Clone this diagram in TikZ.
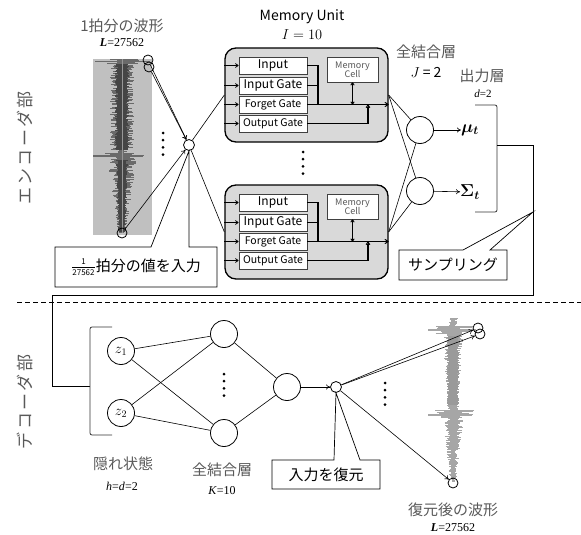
\documentclass[tikz,border=0pt]{standalone}
\usepackage{fontspec}
\usepackage{amsmath,bm}
\setmainfont{Noto Sans CJK JP}
\newfontfamily\ser{Liberation Serif}
\usetikzlibrary{arrows.meta,calc}
\newcommand\fsize[1]{\fontsize{#1}{#1}\selectfont}
\definecolor{lblc}{HTML}{595959}
\definecolor{unitfill}{HTML}{D9D9D9}
\definecolor{wavebg}{HTML}{C0C0C0}
\definecolor{waveA}{HTML}{6A6A6A}
\definecolor{waveAcore}{HTML}{454545}
\definecolor{waveB}{HTML}{A6A6A6}
\definecolor{waveBcore}{HTML}{9A9A9A}
\tikzset{
  unit/.style={draw, line width=1.3pt, fill=unitfill, rounded corners=11pt, inner sep=0pt},
  gate/.style={draw=black!75, line width=0.8pt, fill=white, minimum width=68pt, minimum height=17pt, inner sep=0pt},
  neuron/.style={circle, draw, line width=0.8pt, minimum size=27pt, inner sep=0pt},
  smallnode/.style={circle, draw, line width=0.8pt, minimum size=11pt, inner sep=0pt},
  pick/.style={circle, draw, line width=0.8pt, minimum size=10pt, inner sep=0pt},
  conn/.style={line width=0.6pt},
  arr/.style={conn, -{To[length=4pt,width=5pt]}},
  uarr/.style={line width=0.8pt, -{To[length=3.5pt,width=4.5pt]}},
  thick2/.style={line width=1.6pt},
  callout/.style={draw, line width=0.7pt, fill=white},
  lbl/.style={text=lblc, font=\fsize{15}, inner sep=0pt},
  serlbl/.style={font=\ser\fsize{12}, inner sep=0pt},
  sidelbl/.style={text=lblc, font=\fsize{17}\addfontfeatures{LetterSpace=14}, rotate=90, inner sep=0pt},
}
\newcommand\vdotsat[2]{\foreach \k in {0,1,2,3}{\fill (#1,#2+\k*7.2) circle (1.5pt);}}
\newcommand\memunit[2]{%
 \begin{scope}[shift={(0,#2)}]
  \node[unit, minimum width=163pt, minimum height=94pt] (#1) at (306.5,95) {};
  \node[gate, font=\fsize{12}] (#1a) at (273,65.5) {Input};
  \node[gate, font=\fsize{12}] (#1b) at (273,85.5) {Input Gate};
  \node[gate, font=\fsize{10.5}] (#1c) at (273,104.5) {Forget Gate};
  \node[gate, font=\fsize{10.5}] (#1d) at (273,123.5) {Output Gate};
  \node[gate, minimum width=51pt, minimum height=25pt, text=black!65, font=\fsize{9}, align=center] (#1m) at (352.5,69.5) {Memory\\[-1pt]Cell};
  \foreach \g in {a,b,c,d}{\draw[uarr] (#1.west |- #1\g.west) -- (#1\g.west);}
  \coordinate (#1j) at (318,104.5);
  \coordinate (#1k) at (368,123.5);
  \draw[thick2] (#1a.east) -- (#1a.east -| #1j) -- (#1j);
  \draw[thick2] (#1b.east) -- (#1b.east -| #1j);
  \draw[line width=1pt, -{To[length=4pt,width=5pt]}] (#1c.east) -- (#1c.east -| #1.east);
  \draw[line width=1pt, {To[length=3pt,width=4pt]}-{To[length=3pt,width=4pt]}] (#1m.south) -- (#1m.south |- #1j);
  \draw[thick2] (#1d.east) -- (#1k) -- ($(#1k |- #1j)+(0,2)$);
  \draw[line width=1pt, -{To[length=3.5pt,width=4.5pt]}] (#1k) -- (#1k |- #1j);
 \end{scope}}
\begin{document}
\begin{tikzpicture}[x=1pt,y=-1pt]
\useasboundingbox (0,0) rectangle (581,535);

% ---------- encoder waveform ----------
\fill[wavebg] (93,59) rectangle (152,235);
\pgfmathsetseed{12}
\foreach \y in {59,59.8,...,233}{
  \pgfmathsetmacro\env{\y<64 ? 17 : (\y<150 ? 12 : (\y<153 ? 5 : (\y<158 ? 22 : 15-(\y-158)*11/75)))}
  \pgfmathsetmacro\wl{\env*(0.25+0.75*rnd)}
  \pgfmathsetmacro\wr{\env*(0.25+0.75*rnd)}
  \draw[waveA, line width=0.7pt] (122-\wl,\y) -- (122+\wr,\y);
}
\foreach \y in {64,64.8,...,150}{
  \pgfmathsetmacro\wl{4+3*rnd}
  \pgfmathsetmacro\wr{4+3*rnd}
  \draw[waveAcore, line width=0.8pt] (122-\wl,\y) -- (122+\wr,\y);
}
\foreach \y in {160,160.8,...,232}{
  \pgfmathsetmacro\w{4-(\y-160)*2/72+2*rnd}
  \draw[waveAcore, line width=0.7pt] (122-\w,\y) -- (122+\w,\y);
}
\draw[waveA, line width=1.1pt] (95,61.5) -- (150,61.5);
\draw[waveA, line width=1.3pt] (93,156) -- (143,156);
\draw[waveA!70, line width=0.4pt] (122,59) -- (122,233);

\node[lbl] (wtitle) at (122,26) {1拍分の波形};
\node[serlbl] (wlen) at (122,43) {\textbf{\textit{L}}=27562};
\node[sidelbl] (enc) at (25,148) {エンコーダ部};

\node[pick] (w1) at (148,60) {};
\node[pick] (w2) at (149,67) {};
\node[pick] (w3) at (122,233) {};
\vdotsat{163}{133}
\node[smallnode] (n0) at (189,145) {};
\draw[arr] (w1) -- (n0);
\draw[arr] (w2) -- (n0);
\draw[arr] (w3) -- (n0);

% callout 1
\coordinate (c1a) at (55,247);
\coordinate (c1b) at (151,247);
\coordinate (c1c) at (189,247);
\coordinate (c1d) at (217,247);
\coordinate (c1e) at (217,287);
\coordinate (c1f) at (55,287);
\draw[callout] (c1a) -- (c1b) -- (n0.south) -- (c1c) -- (c1d) -- (c1e) -- (c1f) -- cycle;
\node[inner sep=0pt, font=\fsize{15}] (c1t) at (136,267) {\raisebox{0.5pt}{$\genfrac{}{}{0.8pt}{}{\text{\fsize{8}1}}{\text{\fsize{8}27562}}$}拍分の値を入力};

% ---------- memory units ----------
\node[inner sep=0pt, font=\fsize{14}] (mu) at (302,17) {Memory Unit};
\node[inner sep=0pt, font=\fsize{14}] (mui) at (302,35) {$I=10$};
\memunit{A}{0}
\memunit{B}{137}
\vdotsat{303}{152}
\draw[conn] (n0) -- (A.west);
\draw[conn] (n0) -- (B.west);

% ---------- fully connected ----------
\node[lbl] (fc) at (426,52) {全結合層};
\node[inner sep=0pt, font=\fsize{14}] (fcj) at (426,72) {$J$ = 2};
\node[neuron] (f1) at (420,130) {};
\node[neuron] (f2) at (420,191) {};
\draw[conn] (A.east) -- (f1);
\draw[conn] (A.east) -- (f2);
\draw[conn] (B.east) -- (f1);
\draw[conn] (B.east) -- (f2);

\node[lbl] (outl) at (482,76) {出力層};
\node[serlbl, font=\ser\fsize{11}] (outd) at (483,94) {\textit{d}=2};
\node[inner sep=0pt, font=\fsize{17}] (mut) at (470,130) {$\bm{\mu}_{\bm{t}}$};
\node[inner sep=0pt, font=\fsize{17}] (sgt) at (470,192) {$\bm{\Sigma}_{\bm{t}}$};
\draw[arr] (f1) -- (mut);
\draw[arr] (f2) -- (sgt);
\coordinate (bra) at (475,105);
\coordinate (brb) at (475,212);
\coordinate (br) at (497,145);
\draw[line width=0.8pt, black!80, rounded corners=2pt] (bra) -- (bra -| br) -- (brb -| br) -- (brb);

% sampling connector
\coordinate (s0) at (533,145);
\coordinate (s1) at (533,212);
\coordinate (s2) at (533,295);
\coordinate (s3) at (52,295);
\coordinate (s4) at (52,386);
\coordinate (zb) at (90,386);
\draw[line width=0.8pt] (br) -- (s0) -- (s2) -- (s3) -- (s4) -- (zb);
\coordinate (c2a) at (399,250);
\coordinate (c2b) at (463,250);
\coordinate (c2c) at (490,250);
\coordinate (c2d) at (507,250);
\coordinate (c2e) at (507,280);
\coordinate (c2f) at (399,280);
\draw[callout] (c2a) -- (c2b) -- (s1) -- (c2c) -- (c2d) -- (c2e) -- (c2f) -- cycle;
\node[inner sep=0pt, font=\fsize{15}] (c2t) at (453,265) {サンプリング};

% dashed separator
\coordinate (d0) at (17,302);
\coordinate (d1) at (581,302);
\draw[line width=0.7pt, dash pattern=on 5pt off 3pt] (d0) -- (d1);

% ---------- decoder ----------
\node[sidelbl] (dec) at (25,402) {デコーダ部};
\coordinate (zba) at (112,327);
\coordinate (zbb) at (112,435);
\draw[line width=0.8pt, black!80, rounded corners=2pt] (zba) -- (zba -| zb) -- (zbb -| zb) -- (zbb);
\node[neuron, font=\fsize{14}] (z1) at (121,351) {$z_1$};
\node[neuron, font=\fsize{14}] (z2) at (121,413) {$z_2$};
\node[neuron] (h1) at (224,334) {};
\node[neuron] (h2) at (224,433) {};
\vdotsat{224}{374}
\node[neuron] (o1) at (287,387) {};
\draw[conn] (z1) -- (h1);
\draw[conn] (z1) -- (h2);
\draw[conn] (z2) -- (h1);
\draw[conn] (z2) -- (h2);
\draw[conn] (h1) -- (o1);
\draw[conn] (h2) -- (o1);
\node[smallnode] (n1) at (336,387) {};
\draw[arr] (o1) -- (n1);

\node[lbl] (hid) at (123,464) {隠れ状態};
\node[serlbl] (hidd) at (122,486) {\textit{h}=\textit{d}=2};
\node[lbl] (fc2) at (222,470) {全結合層};
\node[serlbl] (fc2k) at (222,491) {\textit{K}=10};

% decoder waveform
\pgfmathsetseed{5}
\foreach \y in {318,318.8,...,482}{
  \pgfmathsetmacro\env{\y<326 ? 5 : (\y<334 ? 21 : (\y<410 ? 10-(\y-334)*4/76 : (\y<418 ? 21 : 11-(\y-418)*8/64)))}
  \pgfmathsetmacro\wl{\env*(0.3+0.7*rnd)}
  \pgfmathsetmacro\wr{\env*(0.3+0.7*rnd)}
  \draw[waveB, line width=0.7pt] (453-\wl,\y) -- (453+\wr,\y);
}
\foreach \y in {336,336.8,...,405}{
  \pgfmathsetmacro\w{4+2*rnd}
  \draw[waveBcore, line width=0.7pt] (453-\w,\y) -- (453+\w,\y);
}
\draw[waveB, line width=1.1pt] (428,330) -- (476,330);
\draw[waveB, line width=1.1pt] (428,415) -- (472,415);
\node[pick] (r1) at (478,328) {};
\node[pick] (r2) at (480,334) {};
\node[pick] (r3) at (453,483) {};
\vdotsat{385}{383}
\draw[arr] (n1) -- (r1);
\draw[arr] (n1) -- (r2);
\draw[arr] (n1) -- (r3);

% callout 3
\coordinate (c3a) at (272,460);
\coordinate (c3b) at (334,460);
\coordinate (c3c) at (360,460);
\coordinate (c3d) at (380,460);
\coordinate (c3e) at (380,489);
\coordinate (c3f) at (272,489);
\draw[callout] (c3a) -- (c3b) -- (n1.south) -- (c3c) -- (c3d) -- (c3e) -- (c3f) -- cycle;
\node[inner sep=0pt, font=\fsize{15}] (c3t) at (326,474.5) {入力を復元};

\node[lbl] (rtitle) at (453,510) {復元後の波形};
\node[serlbl] (rlen) at (453,528) {\textbf{\textit{L}}=27562};
\end{tikzpicture}
\end{document}
